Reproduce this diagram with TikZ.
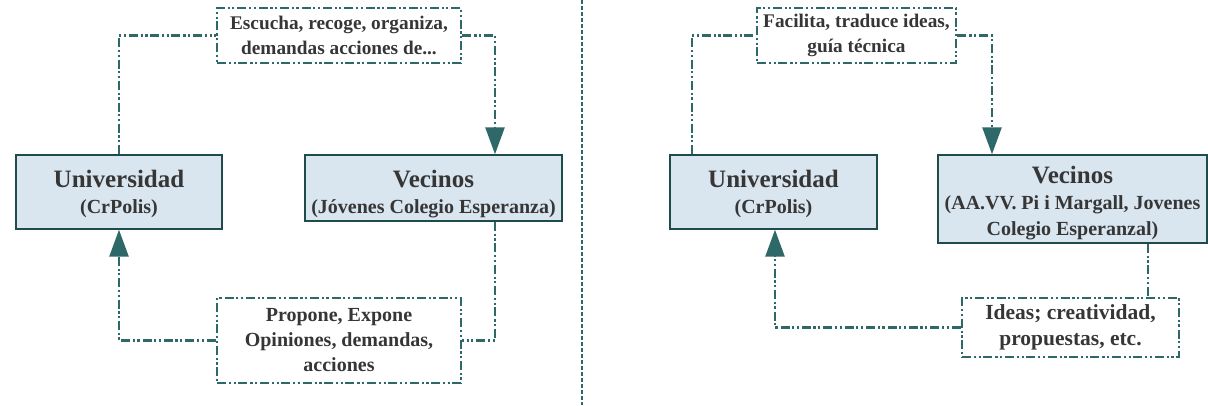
\documentclass[tikz,border=0pt]{standalone}
\usepackage{fontspec}
\setmainfont{Liberation Serif}
\usetikzlibrary{arrows.meta}
\definecolor{teal1}{HTML}{2F6868}
\definecolor{boxfill}{HTML}{D9E6F0}
\definecolor{boxline}{HTML}{1F4C4A}
\definecolor{txt}{HTML}{363636}
\tikzset{
  dashdd/.style={line width=2.6pt, draw=teal1, dash pattern=on 9pt off 3pt on 2.2pt off 2.5pt on 2.2pt off 2.5pt},
  mainbox/.style={draw=boxline, line width=1.4pt, fill=boxfill, inner sep=0pt},
  maintext/.style={inner sep=0pt, align=center, text=txt, font=\bfseries\fontsize{20}{26}\selectfont},
  labelbox/.style={dashdd, fill=white, inner sep=0pt, align=center, text=txt, font=\bfseries\fontsize{19.3}{25}\selectfont},
  conn/.style={dashdd},
  arr/.style={dashdd, -{Triangle[width=19pt,length=27pt,fill=teal1]}},
  sep/.style={line width=2pt, draw=teal1, dash pattern=on 4pt off 2pt},
}
\newcommand{\ttlf}{\fontsize{25}{28}\selectfont}
\begin{document}
\begin{tikzpicture}[x=1pt,y=-1pt]
\useasboundingbox (0,0) rectangle (1208,405);
% ---------- left panel ----------
\node[mainbox, minimum width=206pt, minimum height=74pt] (uniL) at (119,192) {};
\node[maintext] (uniLt) at (119,194) {{\ttlf Universidad}\\(CrPolis)};
\node[mainbox, minimum width=257pt, minimum height=66pt] (vecL) at (433.5,188) {};
\node[maintext] (vecLt) at (433.5,194) {{\ttlf Vecinos}\\(Jóvenes Colegio Esperanza)};
\node[labelbox, minimum width=244pt, minimum height=55pt] (topL) at (339,35.5)
  {Escucha, recoge, organiza,\\demandas acciones de...};
\node[labelbox, minimum width=244pt, minimum height=85pt, font=\bfseries\fontsize{20}{25}\selectfont] (botL) at (339,340.5)
  {Propone, Expone\\Opiniones, demandas,\\acciones};
\draw[conn] (uniL.north) |- (topL.west);
\draw[arr] (topL.east) -| ([xshift=61.5]vecL.north);
\draw[conn] ([xshift=61.5]vecL.south) |- (botL.east);
\draw[arr] (botL.west) -| (uniL.south);
% separator
\coordinate (s1) at (582,0);
\coordinate (s2) at (582,405);
\draw[sep] (s1) -- (s2);
% ---------- right panel ----------
\node[mainbox, minimum width=207pt, minimum height=74pt] (uniR) at (773.5,192) {};
\node[maintext] (uniRt) at (773.5,194) {{\ttlf Universidad}\\(CrPolis)};
\node[mainbox, minimum width=269pt, minimum height=88pt] (vecR) at (1072.5,199) {};
\node[maintext] (vecRt) at (1072.5,203) {{\ttlf Vecinos}\\(AA.VV. Pi i Margall, Jovenes\\Colegio Esperanzal)};
\node[labelbox, minimum width=199pt, minimum height=55pt] (topR) at (856.5,35.5)
  {Facilita, traduce ideas,\\guía técnica};
\node[labelbox, minimum width=217pt, minimum height=59pt, font=\bfseries\fontsize{21.5}{26}\selectfont] (botR) at (1070.5,327.5)
  {Ideas; creatividad,\\propuestas, etc.};
\draw[conn] ([xshift=-81.5]uniR.north) |- (topR.west);
\draw[arr] (topR.east) -| ([xshift=-80.5]vecR.north);
\draw[conn] ([xshift=75.5]vecR.south) -- ([xshift=75.5]vecR.south |- botR.north);
\draw[arr] (botR.west) -| ([xshift=1.5]uniR.south);
\end{tikzpicture}
\end{document}
